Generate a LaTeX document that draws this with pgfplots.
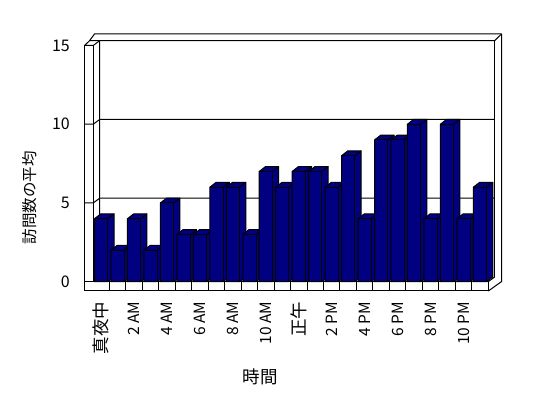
\documentclass[border=0pt]{standalone}
\usepackage{fontspec}
\setmainfont{Noto Sans CJK JP}
\usepackage{pgfplots}
\usepackage{pgfplotstable}
\pgfplotsset{compat=1.18}
\definecolor{barnavy}{RGB}{0,0,128}
\pgfplotstableread{
x y
0 4
1 2
2 4
3 2
4 5
5 3
6 3
7 6
8 6
9 3
10 7
11 6
12 7
13 7
14 6
15 8
16 4
17 9
18 9
19 10
20 4
21 10
22 4
23 6
}\visits
\begin{document}
\begin{tikzpicture}
% ---- frame (walls, floor, gridlines) ----
\begin{scope}[x=1pt,y=1pt,line width=1pt,line join=miter]
 % floor front strip
 \draw (84.7,352.55) -- (84.7,107) -- (488.3,107) -- (488.3,116.3) -- (84.7,116.3);
 \foreach \k in {1,...,23} {\pgfmathsetmacro\xx{84.7+(\k+0.5)*16.47}\draw (\xx,116.3) -- (\xx,107);}
 \draw (488.3,107) -- (501.5,116.4) -- (501.5,364);
 \draw (488.3,116.3) -- (494.6,121);
 % top
 \draw (84.7,352.55) -- (89.5,357.25) -- (94.5,364) -- (501.5,364);
 \draw (89.5,357.25) -- (494.6,357.25) -- (501.5,364);
 \draw (84.7,352.55) -- (93.3,352.55) -- (99.6,357.25);
 % walls
 \draw (93.3,352.55) -- (93.3,116.3);
 \draw (99.6,357.25) -- (99.6,121) -- (93.3,116.3);
 \draw (494.6,357.25) -- (494.6,121);
 % gridlines
 \draw (494.6,278.5) -- (99.6,278.5) -- (93.3,273.8) -- (84.7,273.8);
 \draw (494.6,199.75) -- (99.6,199.75) -- (93.3,195.05) -- (84.7,195.05);
\end{scope}
\begin{axis}[
  at={(84.7pt,116.3pt)}, anchor=south west,
  x=16.47pt, y=15.75pt,
  xmin=-1, xmax=23.5, ymin=0, ymax=15,
  axis line style={draw=none},
  tick style={draw=none},
  major tick length=0pt,
  clip=false,
  xtick={0,2,...,22},
  xticklabels={{\fontsize{17.5}{17.5}\selectfont 真夜中},2 AM,4 AM,6 AM,8 AM,10 AM,{\fontsize{17.5}{17.5}\selectfont 正午},2 PM,4 PM,6 PM,8 PM,10 PM},
  ytick={0,5,10,15},
  /pgf/number format/assume math mode=true,
  yticklabel style={anchor=east, inner sep=0pt, font=\fontsize{16}{16}\selectfont},
  yticklabel shift=14.7pt,
  xticklabel style={rotate=90, anchor=east, inner sep=0pt, font=\fontsize{15.5}{15.5}\selectfont},
  xticklabel shift=20pt,
  xlabel={時間}, ylabel={訪問数の平均},
  xlabel style={at={(rel axis cs:0.4356,-0.401)}, anchor=center, inner sep=0pt, font=\fontsize{17.5}{17.5}\selectfont},
  ylabel style={at={(rel axis cs:-0.1356,0.356)}, anchor=center, inner sep=0pt, font=\fontsize{15.5}{15.5}\selectfont},
]
\addplot[scatter, only marks, mark=*, mark size=0.1pt,
  visualization depends on={\thisrow{y} \as \val},
  scatter/@pre marker code/.code={%
    \pgfmathsetmacro\hb{-\val*15.75}%
    \pgfmathsetmacro\hc{\hb+4.8}%
    \filldraw[fill=barnavy, draw=black, line width=1pt, line join=miter]
      (-6.65pt,\hb pt) -- (-6.65pt,0pt) -- (-0.45pt,4.8pt) -- (12.85pt,4.8pt) -- (12.85pt,\hc pt) -- (6.65pt,\hb pt) -- cycle;
    \draw[black, line width=1pt] (-6.65pt,0pt) -- (6.65pt,0pt) -- (6.65pt,\hb pt);
    \draw[black, line width=1pt] (6.65pt,0pt) -- (12.85pt,4.8pt);
    \begin{scope}[opacity=0]%
  },
  scatter/@post marker code/.code={\end{scope}},
] table[x=x,y=y] {\visits};
\end{axis}
\pgfresetboundingbox
\path[use as bounding box] (0pt,0pt) rectangle (548pt,398pt);
\end{tikzpicture}
\end{document}
